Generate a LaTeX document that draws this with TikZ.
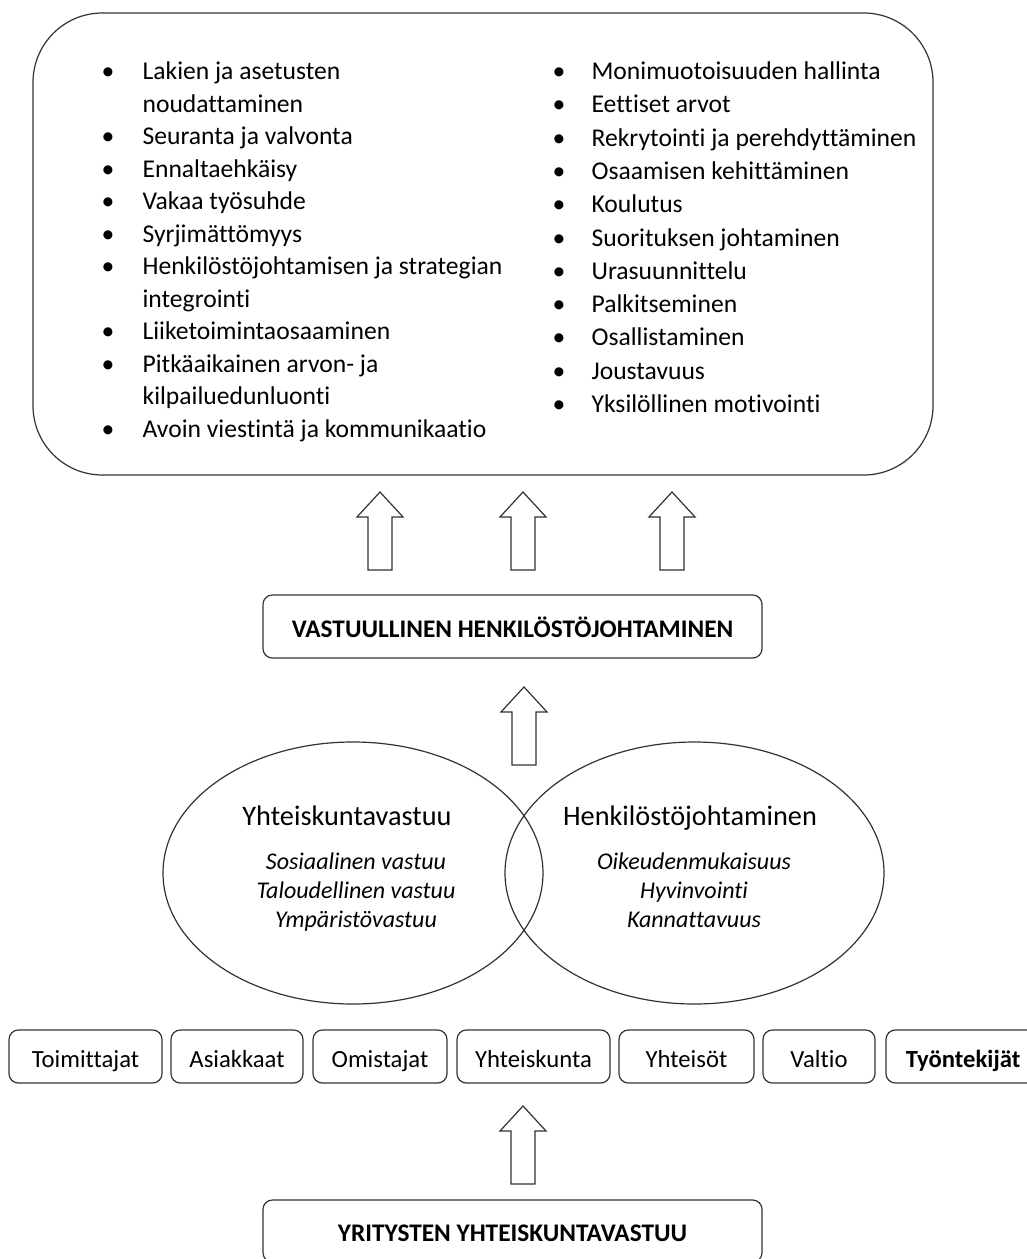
\documentclass[tikz,border=0pt]{standalone}
\usepackage{fontspec}
\setmainfont{Carlito}[Ligatures={NoCommon}]
\usetikzlibrary{
    positioning,
    calc,
    shapes.geometric
}
\definecolor{lineGray}{RGB}{50, 50, 50}
\newcommand{\px}{0.75pt}

\begin{document}
\begin{tikzpicture}[x=0.75pt, y=-0.75pt, line width=0.9pt,
    font=\fontsize{19.2}{23}\selectfont,
    fixedline/.style={text height=1.5ex, text depth=0.4ex},
    listline/.style={anchor=west, inner sep=0pt, fixedline},
    dot/.style={inner sep=0pt, fixedline},
    roundbox/.style={draw=lineGray, rounded corners=7pt, inner sep=0pt, text height=16pt, text depth=0pt},
    stake/.style={roundbox, minimum height=53*\px, font=\fontsize{18.5}{22}\selectfont},
    venn/.style={draw=lineGray, ellipse, inner sep=0pt},
    venntitle/.style={fixedline, font=\fontsize{21.2}{25}\selectfont},
    vennitem/.style={fixedline, font=\fontsize{18}{22}\selectfont\itshape},
    hollowarrow/.style={draw=lineGray, fill=white, line join=miter}]
    \useasboundingbox (0,0) rectangle (1027,1259);
    \clip (0,0) rectangle (1027,1259);

    % top box with the two lists
    \node[draw=lineGray, rounded corners=52pt, minimum width=900*\px, minimum height=462*\px] (goals) at (483,244) {};

    \foreach \ly/\lt [count=\i] in {76/Lakien ja asetusten, 108.5/noudattaminen, 141/Seuranta ja valvonta,
        173.5/Ennaltaehkäisy, 206/Vakaa työsuhde, 238.5/Syrjimättömyys,
        271/Henkilöstöjohtamisen ja strategian, 303.5/integrointi, 336/Liiketoimintaosaaminen,
        368.5/Pitkäaikainen arvon- ja, 401/kilpailuedunluonti, 433.5/Avoin viestintä ja kommunikaatio}
        \node[listline] (left\i) at (142,\ly) {\lt};
    \foreach \ly [count=\i] in {76, 141, 173.5, 206, 238.5, 271, 336, 368.5, 433.5}
        \node[dot] (leftdot\i) at (108,\ly) {\textbullet};

    \foreach \lt [count=\i] in {Monimuotoisuuden hallinta, Eettiset arvot, Rekrytointi ja perehdyttäminen,
        Osaamisen kehittäminen, Koulutus, Suorituksen johtaminen, Urasuunnittelu,
        Palkitseminen, Osallistaminen, Joustavuus, Yksilöllinen motivointi}
    {
        \node[listline] (right\i) at (591,{76+33.3*(\i-1)}) {\lt};
        \node[dot] (rightdot\i) at (559,{76+33.3*(\i-1)}) {\textbullet};
    }

    % hollow arrows
    \foreach \ax/\ay in {380/570, 523/570, 672/570, 524/765, 523/1184}
        \draw[hollowarrow] (\ax-12,\ay) -- ++(0,-53) -- ++(-11,0) -- ++(23,-25)
            -- ++(23,25) -- ++(-11,0) -- ++(0,53) -- cycle;

    \node[roundbox, minimum width=499*\px, minimum height=63*\px, font=\fontsize{19}{23}\selectfont\bfseries]
        (vhj) at (512.5,626.5) {VASTUULLINEN HENKILÖSTÖJOHTAMINEN};

    % venn
    \node[venn, minimum width=380*\px, minimum height=262*\px] (csr) at (353,873) {};
    \node[venn, minimum width=379*\px, minimum height=262*\px] (hrm) at (694.5,873) {};
    \node[venntitle] (csrtitle) at (347,822) {Yhteiskuntavastuu};
    \node[vennitem] (csr1) at (356,866) {Sosiaalinen vastuu};
    \node[vennitem] (csr2) at (356,895) {Taloudellinen vastuu};
    \node[vennitem] (csr3) at (356,924) {Ympäristövastuu};
    \node[venntitle] (hrmtitle) at (690,822) {Henkilöstöjohtaminen};
    \node[vennitem] (hrm1) at (694,866) {Oikeudenmukaisuus};
    \node[vennitem] (hrm2) at (694,895) {Hyvinvointi};
    \node[vennitem] (hrm3) at (694,924) {Kannattavuus};

    % stakeholders
    \foreach \cx/\w/\lt [count=\i] in {85.5/153/Toimittajat, 237/132/Asiakkaat, 380/134/Omistajat,
        533.5/153/Yhteiskunta, 686.5/135/Yhteisöt, 819/112/Valtio}
        \node[stake, minimum width=\w*\px] (stake\i) at (\cx,1056.5) {\lt};
    \node[stake, minimum width=154*\px, font=\fontsize{18.5}{22}\selectfont\bfseries] (stake7) at (963,1056.5) {Työntekijät};

    \node[roundbox, minimum width=499*\px, minimum height=62*\px, font=\fontsize{19}{23}\selectfont\bfseries]
        (yyv) at (512.5,1231) {YRITYSTEN YHTEISKUNTAVASTUU};
\end{tikzpicture}
\end{document}
